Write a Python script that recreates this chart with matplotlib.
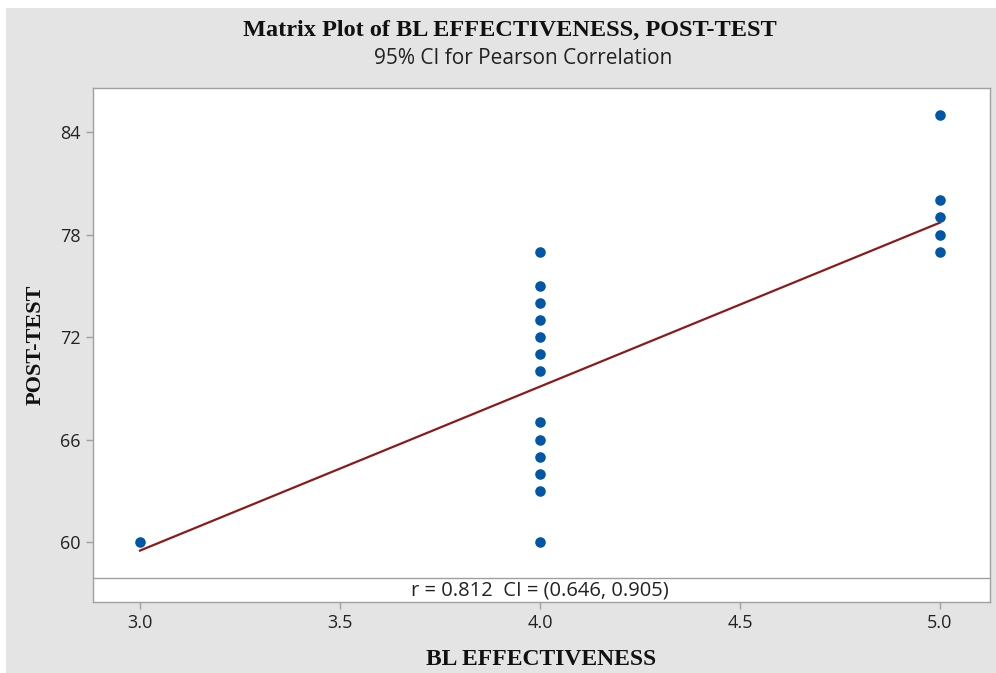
import matplotlib.pyplot as plt
from matplotlib.patches import Rectangle

# Data
bl_effectiveness = [3, 4, 4, 4, 4, 4, 4, 4, 4, 4, 4, 4, 4, 4, 5, 5, 5, 5, 5]
post_test = [60, 77, 75, 74, 73, 72, 71, 70, 67, 66, 65, 64, 63, 60, 85, 80, 79, 78, 77]
fit_x = [3.0, 5.0]
fit_y = [59.5, 78.7]
x_ticks = [3.0, 3.5, 4.0, 4.5, 5.0]
y_ticks = [60, 66, 72, 78, 84]
r_text = "r = 0.812  CI = (0.646, 0.905)"

BG = "#e4e4e4"
BLUE = "#0057a8"
RED = "#8b1a1a"
EDGE = "#a0a0a0"

W, H = 996, 673
fig = plt.figure(figsize=(W / 100, H / 100), dpi=100, facecolor="white")
# grey panel, leaving a thin white margin top and left as in the reference
fig.patches.append(Rectangle((6 / W, 0), 1, 1 - 8 / H, transform=fig.transFigure,
                             facecolor=BG, edgecolor="none", zorder=-10))

# axes box in pixels: left 93, right 990, top 88, bottom 602
ax = fig.add_axes([93 / W, 1 - 602 / H, (990 - 93) / W, (602 - 88) / H])
ax.set_facecolor("white")

ax.plot(fit_x, fit_y, color=RED, lw=1.6, zorder=2)
ax.scatter(bl_effectiveness, post_test, s=58, color=BLUE, zorder=3, linewidths=0)

ax.set_xlim(2.8825, 5.125)
ax.set_ylim(56.49, 86.58)
# band with the correlation text at the bottom of the plot
ax.axhline(57.89, color=EDGE, lw=1.0, zorder=1)
ax.text(4.0, 57.17, r_text, ha="center", va="center", fontsize=14.5,
        family="Open Sans", color="#222222")

ax.set_xticks(x_ticks)
ax.set_xticklabels([f"{v:.1f}" for v in x_ticks])
ax.set_yticks(y_ticks)
for s in ax.spines.values():
    s.set_color(EDGE)
    s.set_linewidth(1.0)
ax.tick_params(direction="out", length=5, width=1, color=EDGE,
               labelsize=13, labelcolor="#222222", pad=4)
for lbl in ax.get_xticklabels() + ax.get_yticklabels():
    lbl.set_family("Open Sans")

ax.set_xlabel("BL EFFECTIVENESS", family="Liberation Serif", fontweight="bold",
              fontsize=17, labelpad=12, color="#111111")
ax.set_ylabel("POST-TEST", family="Liberation Serif", fontweight="bold",
              fontsize=16, labelpad=10, color="#111111")

fig.text(0.512, 1 - 30 / H, "Matrix Plot of BL EFFECTIVENESS, POST-TEST",
         ha="center", va="center", family="Liberation Serif", fontweight="bold",
         fontsize=17.5, color="#111111")
fig.text(0.525, 1 - 58 / H, "95% CI for Pearson Correlation",
         ha="center", va="center", family="Open Sans", fontsize=15, color="#222222")

fig.savefig("out.png", dpi=100, facecolor="white")
